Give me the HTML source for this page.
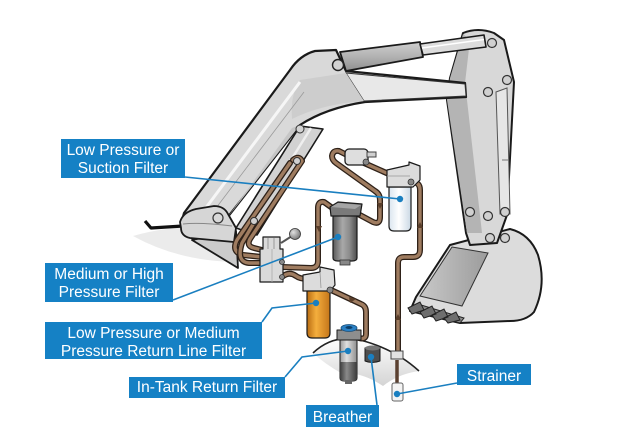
<!DOCTYPE html>
<html><head><meta charset="utf-8">
<style>
html,body{margin:0;padding:0;background:#fff;}
svg{display:block;}
.o{fill:none;stroke:#2e2118;stroke-width:6;stroke-linecap:round;stroke-linejoin:round;}
.i{fill:none;stroke:#9f7c60;stroke-width:3.4;stroke-linecap:round;stroke-linejoin:round;}
.lab{font-family:"Liberation Sans",Arial,sans-serif;font-size:15.5px;fill:#fff;text-anchor:middle;}
.ld{stroke:#1a7fc0;stroke-width:1.6;fill:none;}
.k{stroke:#1a1a1a;stroke-linejoin:round;}
</style></head><body>
<svg width="640" height="448" viewBox="0 0 640 448" xmlns="http://www.w3.org/2000/svg">
<defs>
<linearGradient id="gGray" x1="0" x2="1" y1="0" y2="0"><stop offset="0" stop-color="#5a5a5a"/><stop offset="0.4" stop-color="#a9a9a9"/><stop offset="0.7" stop-color="#8a8a8a"/><stop offset="1" stop-color="#4c4c4c"/></linearGradient>
<linearGradient id="gOr" x1="0" x2="1" y1="0" y2="0"><stop offset="0" stop-color="#b96c12"/><stop offset="0.4" stop-color="#f4ae3d"/><stop offset="1" stop-color="#c4761a"/></linearGradient>
<linearGradient id="gWh" x1="0" x2="1" y1="0" y2="0"><stop offset="0" stop-color="#dae5ef"/><stop offset="0.45" stop-color="#ffffff"/><stop offset="1" stop-color="#cad8e5"/></linearGradient>
<linearGradient id="gTk" x1="0" x2="1" y1="0" y2="0"><stop offset="0" stop-color="#9a9a9a"/><stop offset="0.4" stop-color="#e0e0e0"/><stop offset="1" stop-color="#8e8e8e"/></linearGradient>
<linearGradient id="gTkD" x1="0" x2="1" y1="0" y2="0"><stop offset="0" stop-color="#3e3e3e"/><stop offset="0.4" stop-color="#8a8a8a"/><stop offset="1" stop-color="#3a3a3a"/></linearGradient>
<linearGradient id="gCyl" x1="0" x2="0" y1="0" y2="1"><stop offset="0" stop-color="#cfcfcf"/><stop offset="0.5" stop-color="#b2b2b2"/><stop offset="1" stop-color="#8f8f8f"/></linearGradient>
<linearGradient id="gTank" x1="0" x2="0" y1="0" y2="1"><stop offset="0" stop-color="#ffffff"/><stop offset="1" stop-color="#d4d4d4"/></linearGradient>
<linearGradient id="gBk" x1="0" x2="1" y1="0" y2="0"><stop offset="0" stop-color="#c8c8c8"/><stop offset="1" stop-color="#9c9c9c"/></linearGradient>
<radialGradient id="gBall" cx="0.35" cy="0.35" r="0.7"><stop offset="0" stop-color="#e0e0e0"/><stop offset="1" stop-color="#777"/></radialGradient>
<path id="p1" d="M358,214 L373,222 Q380,225 380,217 L380,200 Q380,194 375,191 L336,163 Q332,160 332,156 Q333,150 339,151 L347,155"/>
<path id="p2" d="M364,163 L391,175"/>
<path id="p3" d="M412,182 Q420,182 420,190 L420,250 Q420,257 413,257 L404,257 Q398,257 398,263 L398,354"/>
<path id="p4" d="M331,207 L324,202 Q318,201 318,208 L318,261 Q318,268 311,268 L282,267"/>
<path id="p5" d="M282,277 Q289,271 296,276 Q300,279 308,279"/>
<path id="p6" d="M331,290 L361,304 Q366,306 366,312 L366,334 Q366,340 359,338"/>
<path id="p7a" d="M293,160 Q299,155 302,161 L250,239 Q246,246 254,248 L262,250"/>
<path id="p7b" d="M290,163 L237,240 Q231,252 243,255 L262,257"/>
<path id="p7c" d="M255,221 L242,243 Q236,262 249,263 L262,263"/>
</defs>

<!-- shadow & hose -->
<path d="M133,236 Q180,222 236,230 L240,262 Q180,262 133,236 Z" fill="#ebebeb"/>
<path d="M145,221 L151,228 L183,226" fill="none" stroke="#111" stroke-width="3.2" stroke-linejoin="round"/>

<!-- bucket -->
<path class="k" stroke-width="2" d="M450,245 L510,229 Q530,234 538,255 Q547,285 534,312 Q526,321 510,321 L460,323 L410,311 L416,297 Z" fill="#dcdcdc"/>
<path d="M452,247 L488,253 L462,306 L420,296 Z" fill="url(#gBk)" stroke="#333" stroke-width="1"/>
<path d="M410,311 L460,323 L464,318 L418,304 Z" fill="#8a8a8a" stroke="#222" stroke-width="1"/>
<path d="M408,308 L420,302 L424,310 L412,314 Z M420,312 L432,306 L436,314 L424,318 Z M432,315 L444,309 L448,317 L436,321 Z M444,318 L456,312 L460,320 L448,323 Z" fill="#6e6e6e" stroke="#222" stroke-width="1"/>

<!-- stick -->
<path class="k" stroke-width="2" d="M463,33 Q478,27 494,33 L504,40 L514,82 L507,215 L497,243 L470,245 L466,233 L447,100 L450,78 Z" fill="#d8d8d8"/>
<path d="M463,34 L470,40 L465,83 L467,100 L482,233 L467,233 L447,100 L450,78 Z" fill="#b4b4b4"/>
<path d="M496,92 L507,88 L510,214 L500,214 Z" fill="#e6e6e6" stroke="#555" stroke-width="1"/>
<line x1="502" y1="160" x2="508" y2="160" stroke="#777" stroke-width="1"/>
<g fill="#d0d0d0" stroke="#333" stroke-width="1.2">
<circle cx="492" cy="43" r="4.5"/><circle cx="507" cy="80" r="4.5"/><circle cx="488" cy="92" r="4.5"/>
<circle cx="470" cy="212" r="4.5"/><circle cx="488" cy="216" r="4.5"/><circle cx="505" cy="212" r="4.5"/>
<circle cx="490" cy="238" r="4.5"/><circle cx="505" cy="238" r="4.5"/></g>

<!-- lift cylinder -->
<path class="k" stroke-width="1.6" d="M300,126 L323,129 L257,235 L236,228 Z" fill="#d2d2d2"/>
<line x1="311" y1="128" x2="246" y2="232" stroke="#efefef" stroke-width="2.5"/>

<!-- boom -->
<path class="k" stroke-width="2.2" d="M181,224 L184,213 L290,70 Q300,55 315,51 L336,50 L346,71 L465,83 L466,97 L365,102 Q326,108 300,125 L227,218 L232,232 Z" fill="#d9d9d9"/>
<path d="M346,73 L465,84 L466,96 L364,101 Z" fill="#e8e8e8" stroke="#333" stroke-width="1"/>
<path d="M292,119 Q322,104 364,101 L346,73 L300,80 Q290,95 292,119 Z" fill="#cdcdcd"/>
<path d="M240,200 L292,128 L300,125 L227,218 Z" fill="#c6c6c6"/>
<line x1="205" y1="209" x2="300" y2="82" stroke="#f6f6f6" stroke-width="3"/>
<line x1="213" y1="212" x2="304" y2="92" stroke="#9a9a9a" stroke-width="0.8"/>
<!-- base -->
<path class="k" stroke-width="1.8" d="M192,240 L236,231 L238,268 Z" fill="#cbcbcb"/>
<path class="k" stroke-width="1.8" d="M180,222 Q183,212 196,209 L214,206 Q224,206 228,214 L236,228 L234,242 L190,238 Q181,236 181,228 Z" fill="#d6d6d6"/>
<path d="M183,224 Q200,222 232,226" fill="none" stroke="#888" stroke-width="1"/>
<circle cx="218" cy="218" r="5" fill="#d8d8d8" stroke="#333" stroke-width="1.2"/>

<!-- top cylinder -->
<path class="k" stroke-width="1.8" d="M340,52 L420,42 L423,57 L346,71 Z" fill="url(#gCyl)"/>
<path class="k" stroke-width="1.6" d="M420,44 L484,35 L486,47 L423,55 Z" fill="#dcdcdc"/>
<line x1="422" y1="48" x2="484" y2="39.5" stroke="#fff" stroke-width="1.5"/>
<circle cx="338" cy="65" r="5.5" fill="#d2d2d2" stroke="#222" stroke-width="1.4"/>
<circle cx="300" cy="129" r="4" fill="#d2d2d2" stroke="#333" stroke-width="1"/>

<!-- tank -->
<path d="M313,353 Q333,334 360,340 Q395,349 419,371 Q398,374 383,386 Q362,372 341,373 Q325,364 313,353 Z" fill="url(#gTank)"/>
<path d="M313,353 Q333,334 360,340 Q395,349 419,371" fill="none" stroke="#222" stroke-width="1.6"/>

<!-- pipes -->
<g>
<use href="#p7b" class="o"/><use href="#p7b" class="i"/>
<use href="#p7a" class="o"/><use href="#p7a" class="i"/>
<use href="#p7c" class="o"/><use href="#p7c" class="i"/>
<use href="#p1" class="o"/><use href="#p1" class="i"/>
<use href="#p2" class="o"/><use href="#p2" class="i"/>
<use href="#p3" class="o"/><use href="#p3" class="i"/>
<use href="#p4" class="o"/><use href="#p4" class="i"/>
<use href="#p5" class="o"/><use href="#p5" class="i"/>
<use href="#p6" class="o"/><use href="#p6" class="i"/>
</g>
<circle cx="297" cy="161" r="3.5" fill="#d0d0d0" stroke="#333" stroke-width="1"/>
<circle cx="254" cy="221" r="3.5" fill="#d0d0d0" stroke="#333" stroke-width="1"/>
<!-- arrows -->
<g fill="#5a3e2a">
<path d="M377,203 L383,203 L380,209 Z"/>
<path d="M316,226 L322,226 L319,232 Z"/>
<path d="M417,228 L423,228 L420,222 Z"/>
<path d="M395,320 L401,320 L398,314 Z"/>
<path d="M349,297 L356,299 L350,303 Z"/>
</g>

<!-- connector top -->
<rect class="k" x="345" y="149" width="23" height="16" rx="4" fill="#dedede" stroke-width="1.3"/>
<rect x="367" y="152" width="9" height="5" fill="#d0d0d0" stroke="#444" stroke-width="1"/>
<circle cx="366" cy="162" r="3" fill="#888" stroke="#333" stroke-width="0.8"/>

<!-- white filter -->
<path class="k" stroke-width="1.2" d="M389,187 L411,187 L411,226 Q411,231 406,231 L394,231 Q389,231 389,226 Z" fill="url(#gWh)"/>
<path class="k" stroke-width="1.2" d="M387,170 L409,165 L409,162 L420,166 L420,180 L413,187 L387,187 Z" fill="#dcdcdc"/>
<path d="M387,176 L410,176" stroke="#999" stroke-width="0.8"/>
<circle cx="411" cy="182" r="3" fill="#888" stroke="#333" stroke-width="0.8"/>

<!-- gray filter -->
<path class="k" stroke-width="1.2" d="M333,214 L357,214 L357,258 Q357,261 352,261 L338,261 Q333,261 333,258 Z" fill="url(#gGray)"/>
<rect x="340" y="260" width="10" height="5" fill="#888" stroke="#333" stroke-width="0.8"/>
<path class="k" stroke-width="1.2" d="M330,207 L338,202 L362,204 L360,216 L331,216 Z" fill="#7a7a7a"/>
<path d="M331,207 L338,203 L361,205 L355,209 Z" fill="#a5a5a5"/>

<!-- valve -->
<path class="k" stroke-width="1.2" d="M263,237 L280,237 L280,249 L283,249 L283,282 L260,282 L260,249 L263,249 Z" fill="#dadada"/>
<line x1="268" y1="238" x2="268" y2="249" stroke="#888" stroke-width="0.8"/>
<line x1="274" y1="238" x2="274" y2="249" stroke="#888" stroke-width="0.8"/>
<line x1="272" y1="249" x2="272" y2="282" stroke="#aaa" stroke-width="0.8"/>
<line x1="281" y1="243" x2="292" y2="236" stroke="#555" stroke-width="2"/>
<circle cx="295" cy="234" r="5.5" fill="url(#gBall)" stroke="#333" stroke-width="0.8"/>
<circle cx="282" cy="262" r="2.5" fill="#888" stroke="#333" stroke-width="0.8"/>
<circle cx="282" cy="277" r="2.5" fill="#888" stroke="#333" stroke-width="0.8"/>

<!-- orange filter -->
<path class="k" stroke-width="1.2" d="M307,289 L330,289 L330,333 Q330,338 325,338 L312,338 Q307,338 307,333 Z" fill="url(#gOr)"/>
<path class="k" stroke-width="1.2" d="M303,275 L320,272 L320,267 L334,270 L335,285 L330,291 L303,291 Z" fill="#dcdcdc"/>
<line x1="320" y1="272" x2="321" y2="288" stroke="#999" stroke-width="0.8"/>
<circle cx="330" cy="290" r="3" fill="#888" stroke="#333" stroke-width="0.8"/>

<!-- in-tank filter -->
<path class="k" stroke-width="1" d="M340,340 L357,340 L357,378 Q357,381 353,381 L344,381 Q340,381 340,378 Z" fill="url(#gTk)"/>
<path d="M340,362 L357,362 L357,378 Q357,381 353,381 L344,381 Q340,381 340,378 Z" fill="url(#gTkD)"/>
<rect x="345" y="380" width="7" height="4" fill="#666"/>
<path class="k" stroke-width="1" d="M337,330 L361,330 L361,340 L337,340 Z" fill="#8e8e8e"/>
<ellipse cx="349" cy="328" rx="8" ry="3.5" fill="#2b80c4" stroke="#1a4f7a" stroke-width="0.8"/>
<ellipse cx="349" cy="327.5" rx="3.5" ry="1.5" fill="#0d3d66"/>

<!-- breather -->
<path class="k" stroke-width="1" d="M365,348 Q372,345 380,348 L380,361 Q372,364 365,361 Z" fill="#4e4e4e"/>
<ellipse cx="372.5" cy="348" rx="7.5" ry="2.5" fill="#777"/>

<!-- strainer -->
<rect x="391" y="351" width="12" height="8" fill="#e2e2e2" stroke="#444" stroke-width="1"/>
<line x1="397" y1="360" x2="397" y2="383" stroke="#5a4030" stroke-width="3.5"/>
<rect x="392" y="383" width="11" height="18" rx="2" fill="#f4f4f4" stroke="#666" stroke-width="1"/>

<!-- leader lines -->
<g class="ld">
<polyline points="185,177 400,199"/>
<polyline points="173,300 338,237"/>
<polyline points="262,322 272,308 316,303"/>
<polyline points="285,377 302,357 348,351"/>
<polyline points="377,405 371,357"/>
<polyline points="457,383 397,394"/>
</g>
<g fill="#1a7fc0">
<circle cx="400" cy="199" r="3.2"/><circle cx="338" cy="237" r="3.2"/><circle cx="316" cy="303" r="3.2"/>
<circle cx="348" cy="351" r="3.2"/><circle cx="371" cy="357" r="3.2"/><circle cx="397" cy="394" r="3.2"/>
</g>

<!-- labels -->
<g fill="#1581c5">
<rect x="61" y="139" width="124" height="39"/>
<rect x="45" y="263" width="128" height="39"/>
<rect x="45" y="322" width="217" height="37"/>
<rect x="129" y="377" width="156" height="21"/>
<rect x="306" y="405" width="73" height="22"/>
<rect x="457" y="364" width="74" height="21"/>
</g>
<text class="lab" x="123" y="155">Low Pressure or</text>
<text class="lab" x="123" y="173">Suction Filter</text>
<text class="lab" x="109" y="279">Medium or High</text>
<text class="lab" x="109" y="297">Pressure Filter</text>
<text class="lab" x="153.5" y="338">Low Pressure or Medium</text>
<text class="lab" x="153.5" y="356">Pressure Return Line Filter</text>
<text class="lab" x="207" y="392">In-Tank Return Filter</text>
<text class="lab" x="342.5" y="422">Breather</text>
<text class="lab" x="494" y="381">Strainer</text>
</svg>
</body></html>
